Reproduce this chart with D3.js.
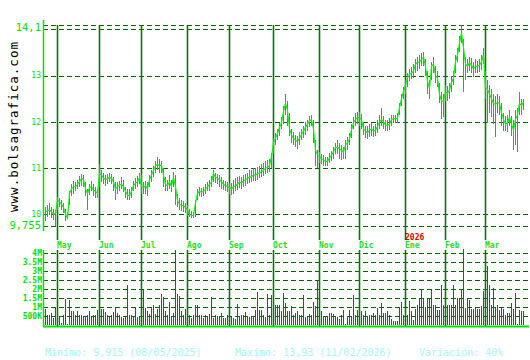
<!DOCTYPE html>
<html><head><meta charset="utf-8">
<script src="https://cdn.jsdelivr.net/npm/d3@7"></script>
<style>body{margin:0;background:#fff}svg{display:block}</style>
</head><body>
<svg id="c" width="530" height="360"></svg>
<script>
const months = ["May","Jun","Jul","Ago","Sep","Oct","Nov","Dic","Ene","Feb","Mar"];
const monthIdx = [6,27,48,71,92,114,137,157,180,200,220];
const yearLabel = "2026";
const yearIdx = 180;

const close = [
10.05,10.08,10.1,10.05,10.0,10.02,10.3,10.28,10.22,10.15,
10.0,9.915,10.45,10.55,10.6,10.6,10.65,10.7,10.78,10.75,
10.55,10.45,10.58,10.6,10.52,10.5,10.45,10.88,10.85,10.78,
10.75,10.77,10.8,10.78,10.7,10.55,10.6,10.63,10.65,10.6,
10.5,10.42,10.4,10.5,10.62,10.68,10.7,10.8,10.6,10.58,
10.62,10.55,10.75,10.85,10.95,11.05,11.08,11.05,11.07,10.85,
10.65,10.62,10.7,10.6,10.8,10.6,10.3,10.22,10.2,10.18,
10.15,10.1,10.0,9.98,9.97,10.25,10.45,10.5,10.48,10.5,
10.55,10.6,10.65,10.7,10.88,10.8,10.78,10.75,10.7,10.65,
10.62,10.6,10.58,10.55,10.6,10.62,10.65,10.7,10.68,10.72,
10.75,10.78,10.8,10.82,10.85,10.85,10.88,10.9,10.92,10.95,
11.0,11.02,11.05,11.25,11.55,11.65,11.75,11.88,11.98,12.22,
12.4,12.25,11.85,11.72,11.65,11.6,11.57,11.65,11.72,11.8,
11.88,11.95,12.02,12.05,11.85,11.4,11.28,11.25,11.2,11.18,
11.14,11.15,11.22,11.28,11.35,11.45,11.45,11.42,11.38,11.35,
11.5,11.55,11.63,11.82,11.98,12.05,12.1,12.08,12.05,11.85,
11.8,11.76,11.82,11.85,11.8,11.82,11.9,12.0,12.05,12.0,
11.93,11.92,11.95,12.05,12.07,12.07,12.08,12.3,12.5,12.65,
12.8,12.95,13.03,13.05,13.1,13.25,13.28,13.3,13.35,13.4,
13.2,12.88,12.72,13.2,13.25,13.0,12.95,12.6,12.45,12.45,
12.65,12.62,12.68,12.85,12.95,13.3,13.45,13.7,13.93,13.6,
13.25,13.2,13.28,13.22,13.15,13.2,13.2,13.22,13.3,13.45,
12.75,12.7,12.6,12.5,12.4,12.38,12.42,12.4,12.2,12.05,
11.95,11.98,12.1,11.95,11.82,12.05,12.15,12.4,12.35,12.42];

const high = [
10.15,10.2,10.25,10.15,10.12,10.1,10.38,10.35,10.3,10.25,
10.12,10.05,10.5,10.65,10.72,10.7,10.75,10.82,10.88,10.85,
10.7,10.55,10.66,10.72,10.65,10.6,10.55,11.09,10.95,10.9,
10.85,10.88,10.9,10.88,10.8,10.7,10.7,10.72,10.8,10.75,
10.6,10.55,10.55,10.6,10.72,10.78,10.82,10.9,10.85,10.7,
10.72,10.7,10.85,10.95,11.05,11.15,11.25,11.2,11.15,11.0,
10.8,10.75,10.85,10.75,10.92,10.85,10.45,10.35,10.3,10.28,
10.25,10.2,10.12,10.08,10.05,10.3,10.55,10.6,10.58,10.6,
10.65,10.7,10.75,10.82,10.95,10.9,10.88,10.85,10.8,10.75,
10.72,10.7,10.68,10.68,10.75,10.78,10.8,10.82,10.8,10.85,
10.88,10.9,10.95,10.95,11.0,11.0,11.02,11.05,11.08,11.12,
11.15,11.18,11.2,11.32,11.65,11.75,11.85,11.98,12.1,12.35,
12.6,12.45,12.2,11.85,11.78,11.72,11.7,11.78,11.85,11.92,
12.0,12.05,12.12,12.15,12.05,11.6,11.4,11.35,11.3,11.28,
11.25,11.25,11.32,11.38,11.45,11.55,11.6,11.55,11.5,11.45,
11.6,11.68,11.75,11.95,12.1,12.2,12.22,12.22,12.18,12.0,
11.92,11.9,11.95,11.98,11.92,11.95,12.05,12.15,12.3,12.12,
12.05,12.05,12.08,12.15,12.15,12.15,12.2,12.4,12.6,12.75,
12.9,13.05,13.15,13.18,13.25,13.35,13.4,13.45,13.48,13.5,
13.35,13.1,12.9,13.3,13.4,13.2,13.1,12.85,12.65,12.6,
12.8,12.78,12.85,13.0,13.1,13.45,13.6,13.85,14.1,13.8,
13.4,13.35,13.4,13.38,13.3,13.35,13.32,13.35,13.45,13.6,
13.1,12.9,12.8,12.7,12.6,12.55,12.6,12.55,12.4,12.2,
12.12,12.15,12.25,12.12,12.05,12.25,12.3,12.65,12.5,12.5];

const low = [
9.86,9.95,9.98,9.92,9.88,9.755,10.1,10.15,10.1,10.02,
9.86,9.9,10.2,10.4,10.45,10.5,10.55,10.6,10.62,10.6,
10.4,10.1,10.42,10.5,10.4,10.35,10.35,10.6,10.7,10.65,
10.62,10.65,10.7,10.65,10.5,10.3,10.45,10.5,10.55,10.48,
10.35,10.3,10.3,10.35,10.5,10.55,10.6,10.65,10.45,10.45,
10.45,10.4,10.6,10.7,10.8,10.9,10.95,10.9,10.9,10.6,
10.5,10.5,10.55,10.48,10.6,10.2,10.15,10.1,10.08,10.05,
10.02,9.96,9.94,9.92,9.93,9.95,10.3,10.4,10.38,10.4,
10.45,10.5,10.5,10.6,10.7,10.68,10.65,10.6,10.55,10.52,
10.5,10.48,10.45,10.42,10.45,10.5,10.52,10.58,10.55,10.6,
10.62,10.65,10.68,10.7,10.72,10.72,10.75,10.78,10.8,10.82,
10.88,10.9,10.92,11.0,11.3,11.5,11.6,11.7,11.85,11.95,
12.15,11.9,11.7,11.55,11.5,11.45,11.42,11.5,11.6,11.65,
11.72,11.8,11.88,11.9,11.55,11.05,11.0,11.1,11.08,11.05,
11.05,11.05,11.1,11.15,11.2,11.3,11.3,11.2,11.18,11.2,
11.2,11.4,11.5,11.65,11.85,11.9,11.95,11.9,11.85,11.72,
11.65,11.62,11.68,11.7,11.68,11.7,11.75,11.85,11.9,11.85,
11.8,11.8,11.82,11.92,11.98,11.98,11.98,12.15,12.35,12.5,
12.6,12.75,12.88,12.92,12.95,13.05,13.1,13.15,13.2,13.2,
13.0,12.6,12.5,12.9,13.05,12.85,12.75,12.4,12.07,12.1,
12.45,12.45,12.5,12.65,12.8,13.05,13.3,13.5,13.7,12.64,
12.9,13.05,13.1,13.05,12.98,13.05,13.05,13.08,13.12,13.25,
12.5,11.98,12.2,12.1,11.95,11.67,12.2,12.15,11.9,11.8,
11.8,11.77,11.9,11.7,11.4,11.5,11.35,12.15,12.15,12.25];

const volume = [
0.88,0.59,0.59,0.66,0.4,0.96,0.5,0.44,0.1,0.59,
1.44,0.08,1.4,0.77,0.77,0.59,0.77,0.59,0.59,0.52,
0.44,0.59,0.77,0.44,0.59,0.59,0.85,2.06,0.88,0.88,
0.74,0.55,0.52,0.55,0.74,0.96,0.66,0.59,0.44,0.4,
0.48,2.2,0.59,0.55,0.44,0.96,0.48,0.48,2.36,1.95,
0.96,0.77,0.63,1.0,1.1,0.63,0.92,1.14,1.73,1.55,
0.77,0.59,1.29,0.52,0.66,4.15,1.73,1.62,0.77,0.59,
0.88,0.77,0.59,0.4,0.59,1.14,1.1,0.59,0.59,0.4,
0.59,0.52,0.63,1.58,0.4,0.59,0.52,0.52,0.66,0.4,
0.4,0.55,0.4,0.44,0.4,0.37,1.18,0.44,0.55,0.59,
0.74,0.52,0.48,0.48,0.48,0.85,1.84,0.85,0.85,0.59,
0.44,1.73,0.55,1.69,1.92,1.14,1.14,1.14,0.77,1.8,
1.25,0.77,0.77,1.07,0.59,0.7,0.77,0.59,0.59,1.69,
0.44,0.48,0.63,0.59,1.29,1.07,2.43,1.07,0.77,0.52,
0.52,0.52,0.66,0.7,0.63,0.52,0.44,0.33,0.55,0.85,
0.07,0.52,0.85,0.52,1.66,0.59,0.85,0.66,0.77,0.59,
0.77,0.48,0.59,0.59,0.66,0.59,0.96,0.59,1.22,0.66,
0.66,0.77,0.59,0.37,0.22,0.22,0.22,1.0,1.29,0.59,
0.85,0.59,1.36,0.77,0.29,0.88,1.14,1.44,2.03,1.44,
1.03,1.44,1.44,1.95,1.14,1.1,0.85,0.85,2.21,1.14,
2.14,1.14,1.14,1.14,2.25,1.14,1.51,1.51,2.03,4.2,
0.96,1.47,1.4,0.88,0.88,0.96,0.88,0.88,1.07,1.88,
1.8,3.28,2.21,1.1,2.06,0.96,1.14,0.85,0.96,0.88,
0.59,0.66,0.66,1.22,0.88,1.8,0.07,0.85,0.77,0.77];

const priceTicks = [9.755, 10, 11, 12, 13, 14, 14.1];
const priceTickLabels = ["9,755", "10", "11", "12", "13", "", "14,1"];
const volTicks = [0.5, 1, 1.5, 2, 2.5, 3, 3.5, 4];
const volTickLabels = ["500K", "1M", "1.5M", "2M", "2.5M", "3M", "3.5M", "4M"];
const statsLabels = ["Minimo: 9,915 (08/05/2025)", "Maximo: 13,93 (11/02/2026)", "Variación: 40%"];
const siteLabel = "www.bolsagrafica.com";

const N = close.length;
const svg = d3.select("#c");
const MONO = "'DejaVu Sans Mono', monospace";
const GRID = "#006400", MLINE = "#007a00", BRIGHT = "#00e000";

const x = d3.scaleLinear().domain([0, N - 1]).range([45, 45 + 2 * (N - 1)]);
const y = d3.scaleLinear().domain([9.755, 14.1]).range([225.7, 24.7]);
const yv = d3.scaleLinear().domain([0, 4]).range([325.3, 252.8]);
const xL = 43, xR = 528;

// price gridlines
svg.append("g").attr("shape-rendering", "crispEdges").selectAll("line").data(priceTicks).join("line")
  .attr("x1", xL).attr("x2", xR)
  .attr("y1", d => Math.round(y(d)) + 0.5).attr("y2", d => Math.round(y(d)) + 0.5)
  .attr("stroke", GRID).attr("stroke-width", 1).attr("stroke-dasharray", "5,3");

// volume gridlines
svg.append("g").attr("shape-rendering", "crispEdges").selectAll("line").data(volTicks).join("line")
  .attr("x1", xL).attr("x2", xR)
  .attr("y1", d => Math.round(yv(d)) + 0.5).attr("y2", d => Math.round(yv(d)) + 0.5)
  .attr("stroke", GRID).attr("stroke-width", 1).attr("stroke-dasharray", "5,3");

// month lines
const ml = svg.append("g");
ml.selectAll("line.p").data(monthIdx).join("line").attr("class", "p")
  .attr("x1", d => x(d) + 0.5).attr("x2", d => x(d) + 0.5).attr("y1", 25).attr("y2", 240)
  .attr("stroke", MLINE).attr("stroke-width", 1.6);
ml.selectAll("line.v").data(monthIdx).join("line").attr("class", "v")
  .attr("x1", d => x(d) + 0.5).attr("x2", d => x(d) + 0.5).attr("y1", 250).attr("y2", 326)
  .attr("stroke", MLINE).attr("stroke-width", 1.6);

// month labels
svg.append("g").selectAll("text").data(months).join("text")
  .attr("x", (d, i) => x(monthIdx[i])).attr("y", 247.5)
  .attr("font-family", MONO).attr("font-size", 8).attr("font-weight", "bold")
  .attr("fill", "#22dd22").text(d => d);
svg.append("text").attr("x", x(yearIdx)).attr("y", 239.5)
  .attr("font-family", MONO).attr("font-size", 8).attr("font-weight", "bold")
  .attr("fill", "#dd0000").text(yearLabel);

// high-low bars
svg.append("g").attr("shape-rendering", "crispEdges").selectAll("rect").data(close).join("rect")
  .attr("x", (d, i) => x(i)).attr("width", 1)
  .attr("y", (d, i) => y(high[i])).attr("height", (d, i) => Math.max(1, y(low[i]) - y(high[i])))
  .attr("fill", "#13a0b4");

// close line
svg.append("path").datum(close)
  .attr("d", d3.line().x((d, i) => x(i) + 0.5).y(d => y(d)))
  .attr("fill", "none").attr("stroke", "#11ee11").attr("stroke-width", 1.2);

// volume bars
svg.append("g").attr("shape-rendering", "crispEdges").selectAll("rect").data(volume).join("rect")
  .attr("x", (d, i) => x(i)).attr("width", 1)
  .attr("y", d => yv(d)).attr("height", d => yv(0) - yv(d))
  .attr("fill", "#ee0000");

// axes lines
svg.append("line").attr("x1", 43.5).attr("x2", 43.5).attr("y1", 20).attr("y2", 231)
  .attr("stroke", BRIGHT).attr("stroke-width", 1.5);
svg.append("line").attr("x1", 43.5).attr("x2", 43.5).attr("y1", 250).attr("y2", 326)
  .attr("stroke", BRIGHT).attr("stroke-width", 1.5);
svg.append("line").attr("x1", 43).attr("x2", 529).attr("y1", 326.5).attr("y2", 326.5)
  .attr("stroke", BRIGHT).attr("stroke-width", 2);

// price tick labels
svg.append("g").selectAll("text").data(priceTicks).join("text")
  .attr("x", 41).attr("y", (d, i) => y(d) + (i === priceTicks.length - 1 ? 2.8 : 0))
  .attr("dy", "0.36em").attr("text-anchor", "end")
  .attr("font-family", MONO)
  .attr("font-size", (d, i) => (i === 0 || i === priceTicks.length - 1) ? 10.5 : 8)
  .attr("fill", BRIGHT).text((d, i) => priceTickLabels[i]);

// volume tick labels
svg.append("g").selectAll("text").data(volTicks).join("text")
  .attr("x", 42).attr("y", d => yv(d)).attr("dy", "0.36em").attr("text-anchor", "end")
  .attr("font-family", MONO).attr("font-size", 8).attr("font-weight", "bold")
  .attr("fill", BRIGHT).text((d, i) => volTickLabels[i]);

// site label
svg.append("text").attr("transform", "translate(17.5,127) rotate(-90)")
  .attr("text-anchor", "middle").attr("font-family", MONO).attr("font-size", 12.5)
  .attr("textLength", 170).attr("lengthAdjust", "spacing")
  .attr("fill", "#000").text(siteLabel);

// stats
const statsX = [45, 235, 419];
svg.append("g").selectAll("text").data(statsLabels).join("text")
  .attr("x", (d, i) => statsX[i]).attr("y", 356)
  .attr("font-family", MONO).attr("font-size", 10)
  .attr("fill", "#a6f4f4").text(d => d);
</script>
</body></html>
